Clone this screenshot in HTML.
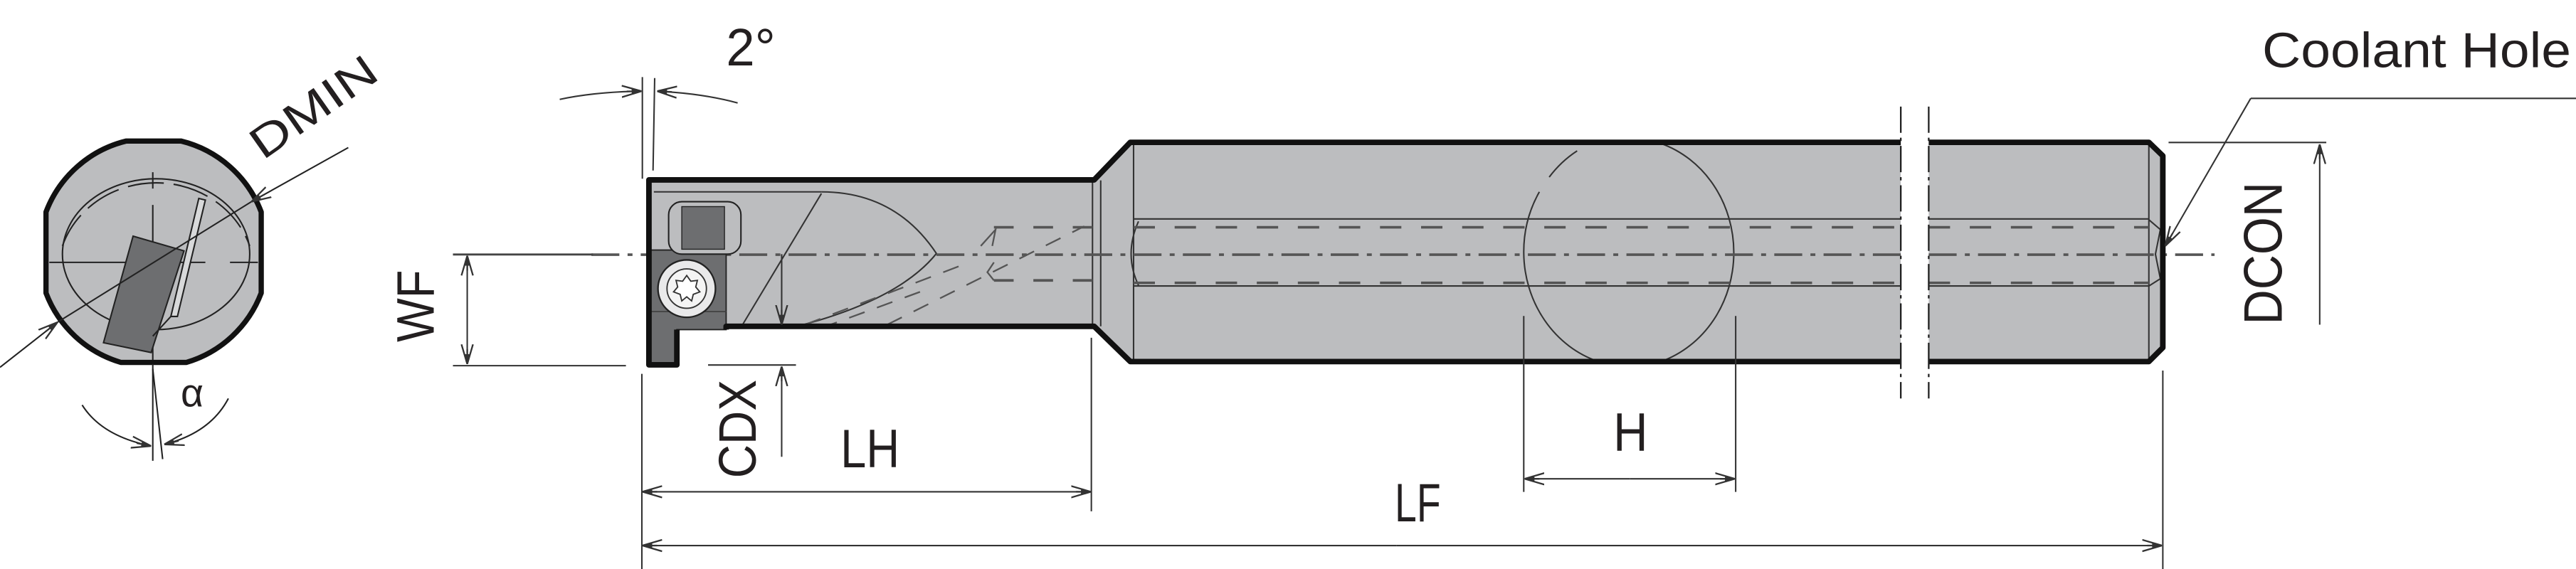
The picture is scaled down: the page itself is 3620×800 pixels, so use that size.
<!DOCTYPE html>
<html><head><meta charset="utf-8">
<style>
html,body{margin:0;padding:0;background:#fff;}
svg{display:block;}
text{font-family:"Liberation Sans",sans-serif;fill:#231f20;}
</style></head>
<body>
<svg width="3620" height="800" viewBox="0 0 1568 347" preserveAspectRatio="none" xmlns="http://www.w3.org/2000/svg">
<defs>
<marker id="ar" viewBox="0 0 12 8" refX="12" refY="4" markerWidth="12" markerHeight="8" markerUnits="userSpaceOnUse" orient="auto">
<path d="M0,0.5 L12,4 L0,7.5 M12,4 L3,4" fill="none" stroke="#333" stroke-width="1"/>
<path d="M6,2.6 L12,4 L6,5.4 Z" fill="#333"/>
</marker>
<clipPath id="endclip"><path d="M28,129.3 A70,70 0 0 1 76.9,86 L110.1,86 A70,70 0 0 1 159,129.3 L159,178.7 A70,70 0 0 1 113.5,221 L73.5,221 A70,70 0 0 1 28,178.7 Z"/></clipPath>
</defs>

<!-- ============ END VIEW ============ -->
<path d="M28,129.3 A70,70 0 0 1 76.9,86 L110.1,86 A70,70 0 0 1 159,129.3 L159,178.7 A70,70 0 0 1 113.5,221 L73.5,221 A70,70 0 0 1 28,178.7 Z" fill="#bcbdbf"/>
<g clip-path="url(#endclip)" fill="none" stroke="#222" stroke-width="0.9">
<ellipse cx="95" cy="155" rx="57" ry="46"/>
<path d="M38,150 A60,56 0 0 1 152,150" stroke-dasharray="22,6"/>
<line x1="30" y1="160" x2="125" y2="160"/>
<line x1="140" y1="160" x2="157" y2="160"/>
<line x1="93" y1="105" x2="93" y2="115"/>
<line x1="93" y1="125" x2="93" y2="222"/>
<polygon points="81,144 112,153 92,215 63,209" fill="#6d6e70" stroke="#222"/>
<polygon points="121,121 125,122 108,193 104,193" fill="#d8d9da"/>
<line x1="104" y1="193" x2="93" y2="205"/>
</g>
<path d="M28,129.3 A70,70 0 0 1 76.9,86 L110.1,86 A70,70 0 0 1 159,129.3 L159,178.7 A70,70 0 0 1 113.5,221 L73.5,221 A70,70 0 0 1 28,178.7 Z" fill="none" stroke="#111" stroke-width="3.2" stroke-linejoin="round"/>
<!-- DMIN leader -->
<line x1="0" y1="224" x2="35" y2="196.5" stroke="#222" stroke-width="0.9" marker-end="url(#ar)"/>
<line x1="35" y1="196.5" x2="153" y2="123" stroke="#222" stroke-width="0.9"/>
<line x1="212" y1="90" x2="153" y2="123" stroke="#222" stroke-width="0.9" marker-end="url(#ar)"/>
<text x="0" y="0" font-size="27" transform="translate(160,98) rotate(-35)" textLength="88" lengthAdjust="spacingAndGlyphs">DMIN</text>
<!-- alpha -->
<line x1="93" y1="222" x2="93" y2="281" stroke="#222" stroke-width="0.9"/>
<line x1="93" y1="225" x2="99" y2="280" stroke="#222" stroke-width="0.9"/>
<path d="M50,247 Q62,266 92,272" fill="none" stroke="#222" stroke-width="0.9" marker-end="url(#ar)"/>
<path d="M139,243 Q128,264 100,271" fill="none" stroke="#222" stroke-width="0.9" marker-end="url(#ar)"/>
<text x="110" y="248" font-size="24">α</text>

<!-- ============ SIDE VIEW BODY ============ -->
<path d="M395,109.7 L666,109.7 L688,86.8 L1308,86.8 L1316.5,95 L1316.5,212 L1308,220.5 L688,220.5 L666,199 L442,199 L442,201 L412,201 L412,222.5 L395,222.5 Z" fill="#bcbdbf"/>
<rect x="1157" y="80" width="17" height="150" fill="#fff"/>
<g fill="none" stroke="#333" stroke-width="0.9">
<line x1="398" y1="117" x2="500" y2="117"/>
<line x1="665" y1="110" x2="665" y2="199"/>
<line x1="670" y1="110" x2="670" y2="199"/>
<line x1="690" y1="88" x2="690" y2="220"/>
<line x1="1308" y1="88" x2="1308" y2="220"/>
<line x1="500" y1="118" x2="452" y2="198"/>
<path d="M500,117 Q545,117 570,154.6 Q548,182 489,198"/>
<line x1="690" y1="133.5" x2="1157" y2="133.5"/>
<line x1="690" y1="174.4" x2="1157" y2="174.4"/>
<line x1="1174" y1="133.5" x2="1308" y2="133.5"/>
<line x1="1174" y1="174.4" x2="1308" y2="174.4"/>
<path d="M693,135 Q684,155 693,174"/>
<path d="M1308,134 L1315,140 L1312,155 L1315,170 L1308,174.4"/>
<!-- H circle -->
<path d="M1011,87.5 A64.5,70 0 0 1 1011,220.5"/>
<path d="M973,220.5 A64.5,70 0 0 1 927.5,154"/>
<path d="M927.5,154 A64.5,70 0 0 1 937,117"/>
<path d="M943,108 A64.5,70 0 0 1 960,92"/>
</g>
<g stroke="#555" stroke-width="1.6" fill="none">
<line x1="605" y1="138.6" x2="665" y2="138.6" stroke-dasharray="12,12"/>
<line x1="605" y1="171" x2="665" y2="171" stroke-dasharray="12,12"/>
<line x1="690" y1="138.6" x2="1157" y2="138.6" stroke-dasharray="13,12"/>
<line x1="690" y1="172.5" x2="1157" y2="172.5" stroke-dasharray="13,12"/>
<line x1="1174" y1="138.6" x2="1308" y2="138.6" stroke-dasharray="13,12"/>
<line x1="1174" y1="172.5" x2="1308" y2="172.5" stroke-dasharray="13,12"/>
<path d="M490,198 L590,160 M500,200 L560,178 M540,198 L660,138" stroke-dasharray="10,8" stroke-width="1"/>
<path d="M597,150 L606,140 L604,150 M605,160 L601,166 L605,171" stroke-width="1"/>
</g>
<line x1="360" y1="155.3" x2="1157" y2="155.3" stroke="#555" stroke-width="1.6" stroke-dasharray="17,5,3,5"/>
<line x1="1174" y1="155.3" x2="1348" y2="155.3" stroke="#555" stroke-width="1.6" stroke-dasharray="17,5,3,5"/>
<line x1="275.7" y1="155.2" x2="361" y2="155.2" stroke="#444" stroke-width="1.2"/>

<path d="M395,152.5 L442,152.5 L442,201 L412,201 L412,222.5 L395,222.5 Z" fill="#6d6e70" stroke="#222" stroke-width="0.8"/>
<line x1="395" y1="190" x2="442" y2="190" stroke="#444" stroke-width="0.8"/>
<rect x="407" y="123" width="44" height="32" rx="8" fill="#bcbdbf" stroke="#222" stroke-width="0.9"/>
<rect x="415" y="126" width="26" height="26" fill="#6d6e70" stroke="#222" stroke-width="0.6"/>
<circle cx="418" cy="176" r="17.5" fill="#e9e9ea" stroke="#222" stroke-width="1"/>
<circle cx="418" cy="176" r="12" fill="#f4f4f4" stroke="#333" stroke-width="0.8"/>
<path d="M418,168 L420.5,171.5 L424.5,171 L423.5,175 L426,178 L422,179.5 L421,183.5 L418,181 L415,183.5 L414,179.5 L410,178 L412.5,175 L411.5,171 L415.5,171.5 Z" fill="#fff" stroke="#333" stroke-width="0.8"/>

<g fill="none" stroke="#111" stroke-width="3.4" stroke-linejoin="round">
<path d="M412,201 L412,222.5 L395,222.5 L395,109.7 L666,109.7 L688,86.8 L1157,86.8"/>
<path d="M1174,86.8 L1308,86.8 L1316.5,95 L1316.5,212 L1308,220.5 L1174,220.5"/>
<path d="M1157,220.5 L688,220.5 L666,199 L442,199 L442,201"/>
</g>
<line x1="1157" y1="65" x2="1157" y2="243" stroke="#222" stroke-width="1" stroke-dasharray="16,3,2,3"/>
<line x1="1174" y1="65" x2="1174" y2="243" stroke="#222" stroke-width="1" stroke-dasharray="16,3,2,3"/>

<g stroke="#333" stroke-width="0.9" fill="none">
<line x1="391" y1="47" x2="391" y2="109"/>
<line x1="398.5" y1="47.6" x2="397.5" y2="104"/>
<path d="M340.7,60.6 Q362,56 390.5,55.6" marker-end="url(#ar)"/>
<path d="M449,62.8 Q428,57 400,55.6" marker-end="url(#ar)"/>
<line x1="275.7" y1="223" x2="381" y2="223"/>
<line x1="284.4" y1="190" x2="284.4" y2="156" marker-end="url(#ar)"/>
<line x1="284.4" y1="190" x2="284.4" y2="222" marker-end="url(#ar)"/>
<line x1="431" y1="222.6" x2="484.5" y2="222.6"/>
<line x1="475.8" y1="155" x2="475.8" y2="198" marker-end="url(#ar)"/>
<line x1="475.8" y1="278.6" x2="475.8" y2="223.5" marker-end="url(#ar)"/>
<line x1="390.7" y1="228" x2="390.7" y2="347"/>
<line x1="664.3" y1="206" x2="664.3" y2="311.8"/>
<line x1="1316.5" y1="226" x2="1316.5" y2="347"/>
<line x1="927.5" y1="192.7" x2="927.5" y2="300"/>
<line x1="1056.5" y1="192.7" x2="1056.5" y2="300"/>
<line x1="520" y1="299.9" x2="391" y2="299.9" marker-end="url(#ar)"/>
<line x1="520" y1="299.9" x2="664" y2="299.9" marker-end="url(#ar)"/>
<line x1="850" y1="332.7" x2="391" y2="332.7" marker-end="url(#ar)"/>
<line x1="850" y1="332.7" x2="1316" y2="332.7" marker-end="url(#ar)"/>
<line x1="992" y1="292" x2="928" y2="292" marker-end="url(#ar)"/>
<line x1="992" y1="292" x2="1056" y2="292" marker-end="url(#ar)"/>
<line x1="1320" y1="86.9" x2="1416" y2="86.9"/>
<line x1="1412" y1="198" x2="1412" y2="88" marker-end="url(#ar)"/>
<line x1="1568" y1="60" x2="1370" y2="60"/>
<line x1="1370" y1="60" x2="1318" y2="150" marker-end="url(#ar)"/>
</g>

<text x="442" y="40" font-size="32" textLength="30" lengthAdjust="spacingAndGlyphs">2°</text>
<text x="0" y="0" font-size="32" transform="translate(264,208.6) rotate(-90)" textLength="44" lengthAdjust="spacingAndGlyphs">WF</text>
<text x="0" y="0" font-size="32" transform="translate(460,291.6) rotate(-90)" textLength="60" lengthAdjust="spacingAndGlyphs">CDX</text>
<text x="511.6" y="285" font-size="33" textLength="36" lengthAdjust="spacingAndGlyphs">LH</text>
<text x="849" y="318" font-size="33" textLength="28" lengthAdjust="spacingAndGlyphs">LF</text>
<text x="982" y="275" font-size="33" textLength="21" lengthAdjust="spacingAndGlyphs">H</text>
<text x="0" y="0" font-size="33" transform="translate(1389,198) rotate(-90)" textLength="87" lengthAdjust="spacingAndGlyphs">DCON</text>
<text x="1377" y="41" font-size="30" textLength="188" lengthAdjust="spacingAndGlyphs">Coolant Hole</text>
</svg>
</body></html>
